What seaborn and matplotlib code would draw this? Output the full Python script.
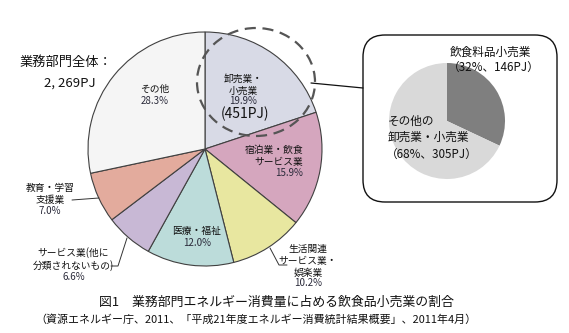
import matplotlib
matplotlib.use("Agg")
import matplotlib.pyplot as plt
from matplotlib.patches import FancyBboxPatch, Ellipse
import seaborn as sns

sns.set_theme(style="white")
plt.rcParams['font.family'] = ['Noto Sans CJK JP', 'DejaVu Sans']

# ---- data ----
main_labels = ["卸売業・\n小売業", "宿泊業・飲食\nサービス業", "生活関連\nサービス業・\n娯楽業",
               "医療・福祉", "サービス業(他に\n分類されないもの)", "教育・学習\n支援業", "その他"]
main_values = [19.9, 15.9, 10.2, 12.0, 6.6, 7.0, 28.3]
main_colors = ["#d8dae6", "#d5a6be", "#e8e7a0", "#bcdcda", "#c8b8d5", "#e3ab9d", "#f5f5f5"]

sub_labels = ["飲食料品小売業", "その他の\n卸売業・小売業"]
sub_values = [32, 68]
sub_pj = [146, 305]
sub_colors = ["#7f7f7f", "#d9d9d9"]

total_pj = "2, 269PJ"
wholesale_pj = 451

W, H = 569, 333
fig = plt.figure(figsize=(W / 100, H / 100), dpi=100)
ax = fig.add_axes([0, 0, 1, 1])

def Y(y):
    return H - y

# main pie
ax.pie(main_values, colors=main_colors, startangle=90, counterclock=False,
       center=(205, Y(149)), radius=117,
       wedgeprops=dict(edgecolor="#404040", linewidth=0.8))

# sub pie
ax.pie(sub_values, colors=sub_colors, startangle=90, counterclock=False,
       center=(447, Y(121)), radius=58,
       wedgeprops=dict(edgecolor="none"))

ax.set_xlim(0, W)
ax.set_ylim(0, H)
ax.set_aspect("equal")
ax.axis("off")

# rounded box
box = FancyBboxPatch((363, Y(202)), 194, 167,
                     boxstyle="round,pad=0,rounding_size=22",
                     fill=False, edgecolor="#111111", linewidth=1.0, zorder=5)
ax.add_patch(box)

# dashed circle
ax.add_patch(Ellipse((256, Y(82)), 118, 108, fill=False, edgecolor="#555555",
                     linewidth=1.6, linestyle=(0, (5, 3)), zorder=5))
ax.plot([311, 363], [Y(83), Y(88)], color="#111111", lw=0.9, zorder=5)

tc = "#111111"
pc = "#2a2a3a"
fs = 7
sfs = 8.4

# main labels
ax.text(243, Y(85), main_labels[0], ha="center", va="center", fontsize=fs, color=tc, linespacing=1.25)
ax.text(243, Y(101), f"{main_values[0]:.1f}%", ha="center", va="center", fontsize=fs, color=pc)
ax.text(245, Y(114), f"({wholesale_pj}PJ)", ha="center", va="center", fontsize=10, color=tc)

ax.text(303, Y(156), main_labels[1], ha="right", va="center", fontsize=fs, color=tc, linespacing=1.25, multialignment="right")
ax.text(303, Y(173), f"{main_values[1]:.1f}%", ha="right", va="center", fontsize=fs, color=pc)

ax.text(308, Y(261), main_labels[2], ha="center", va="center", fontsize=fs, color=tc, linespacing=1.25)
ax.text(308, Y(283), f"{main_values[2]:.1f}%", ha="center", va="center", fontsize=fs, color=pc)
ax.plot([270, 279, 287], [Y(248), Y(265), Y(265)], color="#333333", lw=0.7)

ax.text(197, Y(231), main_labels[3], ha="center", va="center", fontsize=fs, color=tc)
ax.text(197, Y(243), f"{main_values[3]:.1f}%", ha="center", va="center", fontsize=fs, color=pc)

ax.text(73, Y(259), main_labels[4], ha="center", va="center", fontsize=fs, color=tc, linespacing=1.25)
ax.text(74, Y(277), f"{main_values[4]:.1f}%", ha="center", va="center", fontsize=fs, color=pc)
ax.plot([111, 118, 127], [Y(266), Y(266), Y(238)], color="#333333", lw=0.7)

ax.text(50, Y(194), main_labels[5], ha="center", va="center", fontsize=fs, color=tc, linespacing=1.25)
ax.text(50, Y(211), f"{main_values[5]:.1f}%", ha="center", va="center", fontsize=fs, color=pc)
ax.plot([72, 99], [Y(200), Y(198)], color="#333333", lw=0.7)

ax.text(155, Y(89), main_labels[6], ha="center", va="center", fontsize=fs, color=tc)
ax.text(155, Y(101), f"{main_values[6]:.1f}%", ha="center", va="center", fontsize=fs, color=pc)

# total
ax.text(20, Y(62), "業務部門全体：", ha="left", va="center", fontsize=9.5, color=tc)
ax.text(44, Y(83), total_pj, ha="left", va="center", fontsize=9.5, color=tc)

# sub labels
ax.text(450, Y(52), sub_labels[0], ha="left", va="center", fontsize=sfs, color=tc)
ax.text(494, Y(68), f"（{sub_values[0]}%、{sub_pj[0]}PJ）", ha="center", va="center", fontsize=sfs, color=tc)
ax.text(388, Y(129), sub_labels[1], ha="left", va="center", fontsize=sfs, color=tc, linespacing=1.3)
ax.text(432, Y(155), f"（{sub_values[1]}%、{sub_pj[1]}PJ）", ha="center", va="center", fontsize=sfs, color=tc)

# caption
ax.text(276, Y(302), "図1　業務部門エネルギー消費量に占める飲食品小売業の割合", ha="center", va="center",
        fontsize=9.3, color=tc)
ax.text(256, Y(320), "（資源エネルギー庁、2011、「平成21年度エネルギー消費統計結果概要」、2011年4月）",
        ha="center", va="center", fontsize=7.9, color=tc)

fig.savefig("out.png", dpi=100)
